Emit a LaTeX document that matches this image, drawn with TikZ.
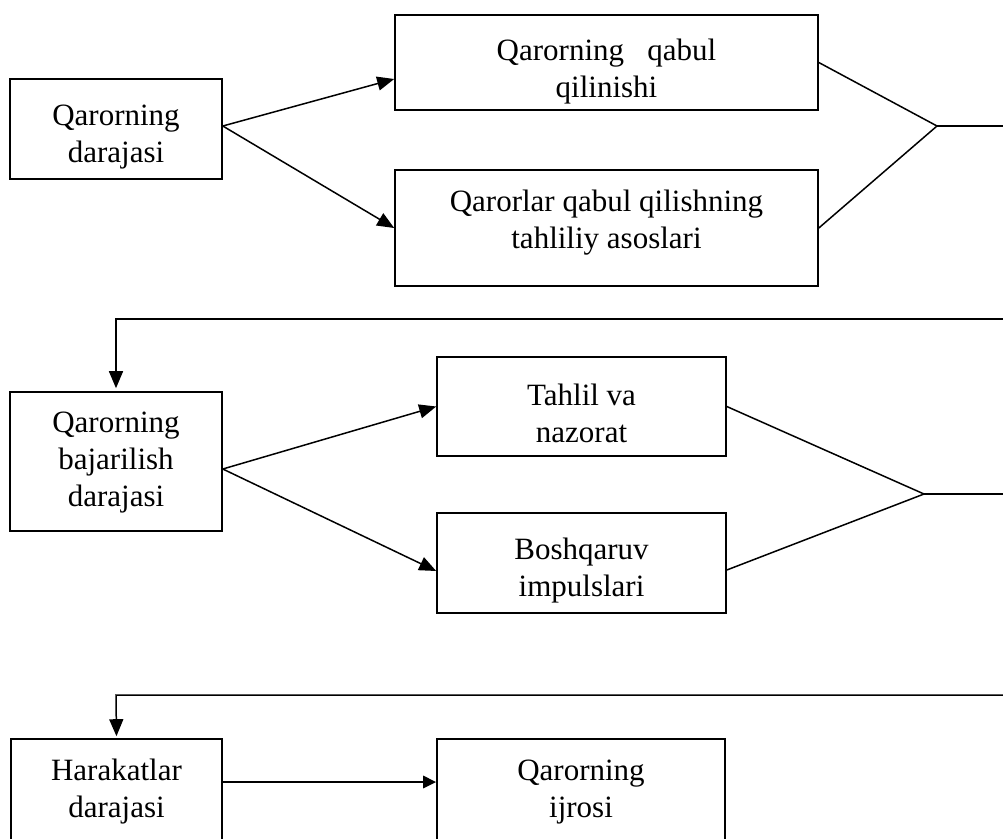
\documentclass[tikz,border=0pt]{standalone}
\usepackage{fontspec}
\setmainfont{Liberation Serif}
\usetikzlibrary{arrows.meta}
\begin{document}
\begin{tikzpicture}[x=1pt,y=-1pt,
  txt/.style={align=center, font=\fontsize{31}{37}\selectfont},
  box/.style={draw, line width=1.6pt, inner sep=0pt},
  conn/.style={line width=1.5pt},
  arr/.style={conn, -{Triangle[length=17pt,width=14pt]}},
  thickarr/.style={line width=2.8pt, -{Triangle[length=13pt,width=12pt]}},
]
\clip (0,0) rectangle (1003,838);
\fill[white] (0,0) rectangle (1003,838);

% top row
\node[box, minimum width=212pt, minimum height=100pt,
      label={[txt, yshift=-8pt]center:Qarorning\\darajasi}] (A) at (116,129) {};
\node[box, minimum width=423pt, minimum height=95pt,
      label={[txt, yshift=-9pt]center:Qarorning\ \ \ qabul\\qilinishi}] (B) at (606.5,62.5) {};
\node[box, minimum width=423pt, minimum height=116pt,
      label={[txt, yshift=5.5pt]center:Qarorlar qabul qilishning\\tahliliy asoslari}] (C) at (606.5,228) {};
\coordinate (J1) at (937,126);
\coordinate (O1) at (1003,126);

\draw[arr] ([yshift=3pt]A.east) -- ([yshift=-16.5pt]B.west);
\draw[arr] ([yshift=3pt]A.east) -- (C.west);
\draw[conn] (B.east) -- (J1);
\draw[conn] (C.east) -- (J1);
\draw[conn] (J1) -- (O1);

% middle row
\node[box, minimum width=212pt, minimum height=139pt,
      label={[txt, yshift=-1pt]center:Qarorning\\bajarilish\\darajasi}] (D) at (116,461.5) {};
\node[box, minimum width=289pt, minimum height=99pt,
      label={[txt, yshift=-7pt]center:Tahlil va\\nazorat}] (E) at (581.5,406.5) {};
\node[box, minimum width=289pt, minimum height=100pt,
      label={[txt, yshift=-8pt]center:Boshqaruv\\impulslari}] (F) at (581.5,563) {};
\coordinate (R1) at (1003,319);
\coordinate (K1) at (116,319);
\coordinate (J2) at (924,494);
\coordinate (O2) at (1003,494);

\draw[arr, shorten >=3pt] (R1) -- (K1) -- (D.north);
\draw[arr] ([yshift=-7.5pt]D.east) -- (E.west);
\draw[arr] ([yshift=-7.5pt]D.east) -- ([yshift=-8pt]F.west);
\draw[conn] (E.east) -- (J2);
\draw[conn] ([yshift=-7pt]F.east) -- (J2);
\draw[conn] (J2) -- (O2);

% bottom row
\node[box, minimum width=211pt, minimum height=101pt,
      label={[txt, yshift=-2pt]center:Harakatlar\\darajasi}] (G) at (116.5,789.5) {};
\node[box, minimum width=288pt, minimum height=101pt,
      label={[txt, yshift=-3pt]center:Qarorning\\ijrosi}] (H) at (581,789.5) {};
\coordinate (R2) at (1003,695);
\coordinate (K2) at (116,695);

\draw[arr, shorten >=2pt] (R2) -- (K2) -- (G.north);
\draw[thickarr] ([yshift=7.5pt]G.east) -- ([yshift=7.5pt]H.west);
\end{tikzpicture}
\end{document}
